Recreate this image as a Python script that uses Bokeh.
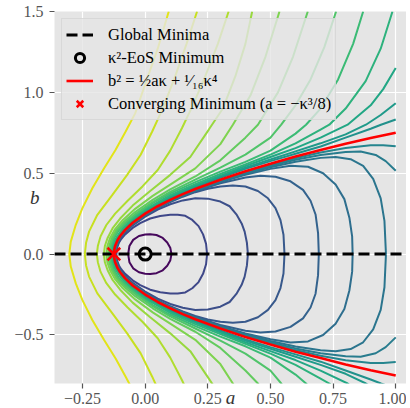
from bokeh.plotting import figure
from bokeh.models import Range1d, FixedTicker, Legend, LegendItem, ColumnDataSource
from bokeh.embed import file_html
from bokeh.resources import INLINE

# ---- tick labels ----
x_ticks = [-0.25, 0.0, 0.25, 0.5, 0.75, 1.0]
x_tick_labels = ["\u22120.25", "0.00", "0.25", "0.50", "0.75", "1.00"]
y_ticks = [-0.5, 0.0, 0.5, 1.0, 1.5]
y_tick_labels = ["\u22120.5", "0.0", "0.5", "1.0", "1.5"]

# ---- red curve (upper branch) ----
red_a = [-0.125, -0.124, -0.12, -0.11, -0.1, -0.08, -0.05, 0.0, 0.05, 0.1, 0.15, 0.2, 0.3, 0.4, 0.5, 0.6, 0.7, 0.8, 0.9, 1.0]
red_b = [0.0, 0.022, 0.05, 0.087, 0.112, 0.15, 0.194, 0.25, 0.296, 0.335, 0.371, 0.403, 0.46, 0.512, 0.559, 0.603, 0.643, 0.682, 0.718, 0.75]

# ---- inner contours (upper half, left tip -> right end) ----
c1_a = [-0.068, -0.063, -0.048, -0.025, 0.0, 0.02, 0.045, 0.07, 0.088, 0.1, 0.105]
c1_b = [0.0, 0.05, 0.088, 0.112, 0.121, 0.123, 0.118, 0.1, 0.072, 0.04, 0.0]
c2_a = [-0.115, -0.112, -0.105, -0.095, -0.08, -0.05, -0.02, 0.02, 0.06, 0.1, 0.13, 0.16, 0.188, 0.213, 0.231, 0.243, 0.247]
c2_b = [0.0, 0.04, 0.07, 0.095, 0.122, 0.162, 0.192, 0.22, 0.236, 0.243, 0.244, 0.237, 0.211, 0.173, 0.122, 0.063, 0.0]
c3_a = [-0.118, -0.113, -0.1, -0.08, -0.05, 0.0, 0.05, 0.1, 0.15, 0.2, 0.25, 0.3, 0.337, 0.364, 0.385, 0.397, 0.406, 0.41]
c3_b = [0.0, 0.05, 0.095, 0.135, 0.178, 0.232, 0.275, 0.308, 0.332, 0.345, 0.343, 0.325, 0.296, 0.246, 0.19, 0.139, 0.07, 0.0]
c4_a = [-0.12, -0.116, -0.108, -0.1, -0.08, -0.05, 0.0, 0.05, 0.1, 0.15, 0.2, 0.25, 0.3, 0.35, 0.4, 0.45, 0.49, 0.52, 0.54, 0.552, 0.556]
c4_b = [0.0, 0.035, 0.075, 0.1, 0.138, 0.182, 0.238, 0.284, 0.322, 0.355, 0.383, 0.404, 0.418, 0.424, 0.418, 0.39, 0.345, 0.285, 0.21, 0.12, 0.0]
c5_a = [-0.121, -0.117, -0.11, -0.1, -0.08, -0.05, 0.0, 0.05, 0.1, 0.15, 0.2, 0.3, 0.4, 0.46, 0.52, 0.58, 0.63, 0.66, 0.68, 0.69, 0.693]
c5_b = [0.0, 0.035, 0.072, 0.103, 0.141, 0.185, 0.241, 0.287, 0.326, 0.359, 0.388, 0.438, 0.474, 0.485, 0.478, 0.45, 0.397, 0.33, 0.245, 0.13, 0.0]
c6_a = [-0.121, -0.118, -0.11, -0.1, -0.08, -0.05, 0.0, 0.05, 0.1, 0.15, 0.2, 0.3, 0.4, 0.5, 0.58, 0.65, 0.71, 0.76, 0.795, 0.815, 0.826, 0.828]
c6_b = [0.0, 0.033, 0.074, 0.105, 0.143, 0.187, 0.243, 0.289, 0.328, 0.362, 0.392, 0.445, 0.49, 0.527, 0.546, 0.54, 0.5, 0.43, 0.34, 0.225, 0.11, 0.0]
c7_a = [-0.122, -0.119, -0.11, -0.1, -0.08, -0.05, 0.0, 0.05, 0.1, 0.15, 0.2, 0.3, 0.4, 0.5, 0.6, 0.7, 0.76, 0.82, 0.87, 0.91, 0.94, 0.955, 0.961]
c7_b = [0.0, 0.032, 0.076, 0.107, 0.145, 0.189, 0.245, 0.291, 0.33, 0.364, 0.395, 0.449, 0.496, 0.537, 0.571, 0.595, 0.6, 0.587, 0.545, 0.465, 0.345, 0.205, 0.0]
c8_a = [-0.122, -0.119, -0.11, -0.1, -0.08, -0.05, 0.0, 0.05, 0.1, 0.15, 0.2, 0.3, 0.4, 0.5, 0.6, 0.7, 0.8, 0.86, 0.92, 0.96, 1.0]
c8_b = [0.0, 0.034, 0.078, 0.108, 0.146, 0.19, 0.246, 0.292, 0.331, 0.366, 0.398, 0.453, 0.502, 0.545, 0.583, 0.613, 0.632, 0.634, 0.613, 0.575, 0.515]
c9_a = [-0.123, -0.12, -0.11, -0.1, -0.08, -0.05, 0.0, 0.05, 0.1, 0.15, 0.2, 0.3, 0.4, 0.5, 0.6, 0.7, 0.8, 0.9, 0.95, 1.0]
c9_b = [0.0, 0.04, 0.081, 0.109, 0.147, 0.191, 0.247, 0.293, 0.333, 0.368, 0.4, 0.456, 0.507, 0.552, 0.593, 0.628, 0.656, 0.673, 0.673, 0.667]

# ---- outer contours (upper half, left crossing -> edge) ----
d0_a = [-0.129, -0.126, -0.12, -0.1, -0.08, -0.05, 0.0, 0.1, 0.2, 0.3, 0.4, 0.5, 0.6, 0.7, 0.8, 0.9, 0.941, 1.0]
d0_b = [0.0, 0.04, 0.07, 0.122, 0.158, 0.202, 0.258, 0.345, 0.413, 0.472, 0.527, 0.575, 0.62, 0.665, 0.72, 0.775, 0.8, 0.832]
d1_a = [-0.131, -0.128, -0.12, -0.1, -0.08, -0.05, 0.0, 0.1, 0.2, 0.3, 0.4, 0.5, 0.6, 0.7, 0.8, 0.881, 0.94, 1.0]
d1_b = [0.0, 0.04, 0.076, 0.126, 0.162, 0.206, 0.263, 0.35, 0.418, 0.478, 0.535, 0.585, 0.635, 0.685, 0.74, 0.8, 0.86, 0.933]
d2_a = [-0.133, -0.13, -0.12, -0.1, -0.08, -0.05, 0.0, 0.1, 0.2, 0.3, 0.4, 0.5, 0.6, 0.7, 0.808, 0.9, 0.95, 1.0]
d2_b = [0.0, 0.04, 0.082, 0.131, 0.167, 0.211, 0.268, 0.356, 0.424, 0.485, 0.545, 0.6, 0.655, 0.72, 0.8, 0.92, 1.02, 1.15]
d3_a = [-0.136, -0.133, -0.12, -0.1, -0.08, -0.05, 0.0, 0.1, 0.2, 0.3, 0.4, 0.5, 0.6, 0.7, 0.735, 0.8, 0.88, 0.94, 0.987]
d3_b = [0.0, 0.04, 0.09, 0.137, 0.173, 0.218, 0.275, 0.364, 0.433, 0.495, 0.555, 0.615, 0.685, 0.77, 0.8, 0.9, 1.07, 1.27, 1.5]
d4_a = [-0.139, -0.135, -0.124, -0.105, -0.075, -0.03, 0.03, 0.1, 0.2, 0.3, 0.4, 0.5, 0.6, 0.642, 0.7, 0.77, 0.83, 0.87]
d4_b = [0.0, 0.05, 0.1, 0.147, 0.193, 0.25, 0.315, 0.375, 0.445, 0.51, 0.57, 0.64, 0.745, 0.8, 0.9, 1.08, 1.3, 1.5]
d5_a = [-0.143, -0.139, -0.128, -0.11, -0.08, -0.035, 0.03, 0.1, 0.2, 0.3, 0.4, 0.5, 0.543, 0.6, 0.66, 0.715, 0.762]
d5_b = [0.0, 0.05, 0.1, 0.148, 0.195, 0.252, 0.322, 0.385, 0.46, 0.535, 0.615, 0.72, 0.8, 0.92, 1.08, 1.28, 1.5]
d6_a = [-0.148, -0.144, -0.133, -0.115, -0.085, -0.04, 0.03, 0.1, 0.2, 0.3, 0.4, 0.45, 0.53, 0.59, 0.649]
d6_b = [0.0, 0.05, 0.1, 0.15, 0.2, 0.26, 0.335, 0.4, 0.48, 0.58, 0.72, 0.8, 1.0, 1.22, 1.5]
d7_a = [-0.155, -0.151, -0.14, -0.12, -0.09, -0.04, 0.03, 0.1, 0.2, 0.3, 0.35, 0.42, 0.48, 0.536]
d7_b = [0.0, 0.05, 0.1, 0.155, 0.21, 0.28, 0.36, 0.43, 0.53, 0.68, 0.8, 0.98, 1.22, 1.5]
d8_a = [-0.165, -0.161, -0.15, -0.13, -0.1, -0.05, 0.02, 0.1, 0.18, 0.254, 0.31, 0.36, 0.4, 0.427]
d8_b = [0.0, 0.05, 0.1, 0.16, 0.22, 0.3, 0.39, 0.49, 0.6, 0.77, 0.9, 1.1, 1.3, 1.5]
d9_a = [-0.193, -0.189, -0.178, -0.155, -0.12, -0.07, -0.01, 0.05, 0.1, 0.147, 0.19, 0.24, 0.29, 0.333]
d9_b = [0.0, 0.05, 0.11, 0.18, 0.25, 0.33, 0.42, 0.52, 0.64, 0.78, 0.92, 1.1, 1.3, 1.5]
d10_a = [-0.241, -0.236, -0.224, -0.191, -0.131, -0.072, -0.018, 0.028, 0.07, 0.12, 0.165, 0.207]
d10_b = [0.0, 0.07, 0.139, 0.243, 0.366, 0.49, 0.614, 0.758, 0.9, 1.1, 1.3, 1.5]
d11_a = [-0.303, -0.297, -0.277, -0.251, -0.211, -0.164, -0.118, -0.078, -0.04, 0.0, 0.05, 0.094]
d11_b = [0.0, 0.077, 0.181, 0.283, 0.407, 0.531, 0.645, 0.758, 0.87, 1.05, 1.27, 1.5]

curves = [(c1_a, c1_b), (c2_a, c2_b), (c3_a, c3_b), (c4_a, c4_b), (c5_a, c5_b),
          (c6_a, c6_b), (c7_a, c7_b), (c8_a, c8_b), (c9_a, c9_b),
          (d0_a, d0_b), (d1_a, d1_b), (d2_a, d2_b), (d3_a, d3_b), (d4_a, d4_b), (d5_a, d5_b),
          (d6_a, d6_b), (d7_a, d7_b), (d8_a, d8_b), (d9_a, d9_b), (d10_a, d10_b), (d11_a, d11_b)]
curve_colors = ["#46085c", "#3f4889", "#3c4f8a", "#38598c", "#33628d", "#2e6e8e", "#2b758e", "#287c8e", "#25858e",
                "#21918c", "#1f9a8a", "#22a785", "#2db27d", "#3bbb75", "#50c46a", "#63cb5f",
                "#7ed34f", "#98d83e", "#b0dd2f", "#c8e020", "#e2e418"]

gm_a = [-0.362, 1.043]
gm_b = [0.0, 0.0]
eos_a = [0.0]
eos_b = [0.0]
conv_a = [-0.125]
conv_b = [0.0]


def both_halves(a, b):
    # upper half traversed backwards, then its mirror image below b = 0
    xs = list(reversed(a)) + list(a)[1:]
    ys = list(reversed(b)) + [-v for v in b][1:]
    return xs, ys


xs, ys = [], []
for a, b in curves:
    x, y = both_halves(a, b)
    xs.append(x)
    ys.append(y)
red_x, red_y = both_halves(red_a, red_b)

p = figure(frame_width=352, frame_height=372,
           x_range=Range1d(-0.362, 1.043), y_range=Range1d(-0.8, 1.5),
           output_backend="svg", toolbar_location=None,
           min_border_left=54, min_border_top=11, min_border_right=0, min_border_bottom=26)
p.background_fill_color = "#e5e5e5"
p.border_fill_color = "white"
p.outline_line_color = None
p.grid.grid_line_color = "white"
p.grid.grid_line_width = 1.2

p.xaxis.ticker = FixedTicker(ticks=x_ticks)
p.yaxis.ticker = FixedTicker(ticks=y_ticks)
p.xaxis.major_label_overrides = {t: l for t, l in zip(x_ticks, x_tick_labels)}
p.yaxis.major_label_overrides = {t: l for t, l in zip(y_ticks, y_tick_labels)}
for ax in (p.xaxis, p.yaxis):
    ax.axis_line_color = None
    ax.major_tick_line_color = "#555555"
    ax.major_tick_line_width = 1.2
    ax.minor_tick_line_color = None
    ax.major_tick_in = 0
    ax.major_tick_out = 5
    ax.major_label_text_font = "Liberation Serif"
    ax.major_label_text_font_size = "16px"
    ax.major_label_text_color = "#555555"
    ax.axis_label_text_font = "Liberation Serif"
    ax.axis_label_text_font_style = "italic"
    ax.axis_label_text_font_size = "19px"
    ax.axis_label_text_color = "#333333"
p.xaxis.major_label_standoff = 4
p.yaxis.major_label_standoff = 6
p.xaxis.axis_label = "a"
p.xaxis.axis_label_standoff = -20
p.yaxis.axis_label = "b"
p.yaxis.axis_label_orientation = "horizontal"
p.yaxis.axis_label_standoff = -28

src = ColumnDataSource(dict(xs=xs, ys=ys, color=curve_colors))
p.multi_line(xs="xs", ys="ys", line_color="color", line_width=2, source=src)

r_red = p.line(red_x, red_y, line_color="red", line_width=2.6)
r_gm = p.line(gm_a, gm_b, line_color="black", line_width=3, line_dash="11 5")
r_eos = p.scatter(eos_a, eos_b, marker="circle", size=12, fill_color=None, line_color="black", line_width=3)
r_conv = p.scatter(conv_a, conv_b, marker="x", size=18, line_color="red", line_width=2.5)

legend = Legend(items=[
    LegendItem(label="Global Minima", renderers=[r_gm]),
    LegendItem(label="\u03ba\u00b2-EoS Minimum", renderers=[r_eos]),
    LegendItem(label="b\u00b2 = \u00bda\u03ba + \u00b9\u2044\u2081\u2086\u03ba\u2074", renderers=[r_red]),
    LegendItem(label="Converging Minimum (a = \u2212\u03ba\u00b3/8)", renderers=[r_conv]),
], location="top_left")
legend.margin = 7
legend.padding = 4
legend.spacing = 0
legend.glyph_width = 27
legend.glyph_height = 23
legend.label_height = 23
legend.label_standoff = 15
legend.label_text_font = "Liberation Serif"
legend.label_text_font_size = "16.5px"
legend.label_text_color = "black"
legend.background_fill_color = "#e5e5e5"
legend.background_fill_alpha = 0.8
legend.border_line_color = "#cccccc"
legend.border_line_width = 1
p.add_layout(legend)

open("out.html", "w").write(file_html(p, INLINE))
